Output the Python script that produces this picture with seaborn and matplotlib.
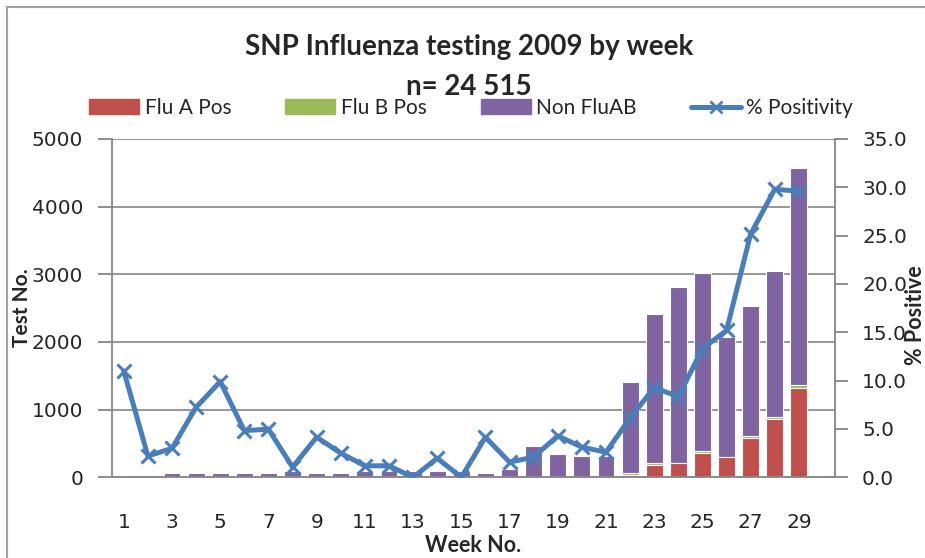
import numpy as np
import pandas as pd
import matplotlib
matplotlib.use('Agg')
import matplotlib.pyplot as plt
from matplotlib.patches import Patch
from matplotlib.lines import Line2D
import seaborn as sns

weeks = list(range(1, 31))
flu_a = [4, 4, 4, 4, 4, 0, 4, 4, 0, 0, 4, 4, 4, 4, 4, 4, 4, 0, 4, 0, 4,
         30, 175, 205, 355, 295, 575, 865, 1315, 0]
flu_b = [0, 0, 0, 0, 0, 4, 0, 0, 4, 4, 0, 0, 0, 0, 0, 0, 0, 4, 0, 4, 0,
         30, 35, 10, 35, 10, 35, 30, 45, 0]
total_tests = [10, 30, 60, 60, 60, 60, 60, 90, 60, 60, 90, 90, 90, 90, 90, 60, 120,
               465, 350, 317, 317, 1411, 2411, 2817, 3015, 2069, 2525, 3045, 4575, 0]
pct_pos = [11.0, 2.2, 3.0, 7.25, 9.9, 4.83, 4.98, 1.05, 4.15, 2.5, 1.19, 1.19, 0.0,
           1.98, 0.0, 4.15, 1.57, 2.09, 4.29, 3.12, 2.6, 6.12, 9.28, 8.35, 13.3,
           15.2, 25.15, 29.8, 29.6]

red = '#C0504D'
green = '#9BBB59'
purple = '#8064A2'
blue = '#4A7EBB'
grey = '#868686'

df = pd.DataFrame({'week': [str(w) for w in weeks], 'flu_a': flu_a,
                   'flu_b': flu_b, 'total': total_tests})
df['ab'] = df['flu_a'] + df['flu_b']
order = df['week'].tolist()

sns.set_style('white')
plt.rcParams['font.family'] = ['DejaVu Sans']
label_font = 'Lato'

fig = plt.figure(figsize=(9.25, 5.58), dpi=100)
ax = fig.add_axes([0.1208, 0.1446, 0.7819, 0.6063])

bar_kw = dict(order=order, width=0.7, edgecolor='white', linewidth=0.8,
              errorbar=None, saturation=1, ax=ax)
sns.barplot(data=df, x='week', y='total', color=purple, **bar_kw)
sns.barplot(data=df, x='week', y='ab', color=green, **bar_kw)
sns.barplot(data=df, x='week', y='flu_a', color=red, **bar_kw)

ax.set_ylim(0, 5000)
ax.set_yticks(range(0, 5001, 1000))
ax.set_xlim(-0.5, len(weeks) - 0.5)
ax.set_xticks(range(len(weeks)))
ax.set_xticklabels([str(w) if (w % 2 == 1 and w < 30) else '' for w in weeks])
ax.set_xticks(np.arange(-0.5, len(weeks), 1), minor=True)
ax.tick_params(axis='x', which='major', length=0, pad=26, labelsize=14.5)
ax.tick_params(axis='x', which='minor', length=8, width=1.3, color=grey)
ax.tick_params(axis='y', length=10, width=1.3, color=grey, pad=10.6, labelsize=14.5)
ax.set_xlabel('')
ax.set_ylabel('')
ax.grid(axis='y', color=grey, linewidth=1.2)
ax.set_axisbelow(True)
for side in ['left', 'bottom', 'right']:
    ax.spines[side].set_color(grey)
    ax.spines[side].set_linewidth(1.3)
ax.spines['top'].set_visible(False)

ax2 = ax.twinx()
line_df = pd.DataFrame({'pos': np.arange(len(pct_pos)), 'pct': pct_pos})
sns.lineplot(data=line_df, x='pos', y='pct', color=blue, linewidth=3.6,
             marker='x', markersize=10, markeredgewidth=2.2,
             markeredgecolor=blue, ax=ax2)
ax2.set_ylim(0, 35)
ax2.set_yticks(np.arange(0, 35.1, 5))
ax2.set_yticklabels([f'{v:.1f}' for v in np.arange(0, 35.1, 5)])
ax2.tick_params(axis='y', length=9, width=1.3, color=grey, pad=10.5, labelsize=14.5)
ax2.set_ylabel('')
ax2.set_xlabel('')
for s in ax2.spines.values():
    s.set_visible(False)
ax.set_xlim(-0.5, len(weeks) - 0.5)

W, H = 925, 558
fig.text(469 / W, 1 - 47 / H, 'SNP Influenza testing 2009 by week', ha='center',
         va='center', fontsize=20, fontweight='bold', family=label_font)
fig.text(469 / W, 1 - 87 / H, 'n= 24 515', ha='center', va='center',
         fontsize=20, fontweight='bold', family=label_font)
fig.text(22 / W, 1 - 308 / H, 'Test No.', rotation=90, ha='center', va='center',
         fontsize=15, fontweight='bold', family=label_font)
fig.text(915 / W, 1 - 315 / H, '% Positive', rotation=90, ha='center', va='center',
         fontsize=15.5, fontweight='bold', family=label_font)
fig.text(473 / W, 1 - 546 / H, 'Week No.', ha='center', va='center',
         fontsize=15.5, fontweight='bold', family=label_font)

handles = [Patch(color=red), Patch(color=green), Patch(color=purple),
           Line2D([0], [0], color=blue, lw=3.6, marker='x', markersize=9,
                  markeredgewidth=2)]
labels = ['Flu A Pos', 'Flu B Pos', 'Non FluAB', '% Positivity']
fig.legend(handles, labels, loc='center', bbox_to_anchor=(471 / W, 1 - 108 / H),
           ncol=4, frameon=False, handlelength=2.4, handleheight=0.7,
           handletextpad=0.25, columnspacing=2.6,
           prop={'family': label_font, 'size': 15})

fig.add_artist(Line2D([7 / W, 1], [1 - 7 / H, 1 - 7 / H], color='#A0A0A0',
                      lw=1.5, transform=fig.transFigure))
fig.add_artist(Line2D([7 / W, 7 / W], [0, 1 - 7 / H], color='#A0A0A0',
                      lw=1.5, transform=fig.transFigure))

fig.savefig('out.png', dpi=100)
